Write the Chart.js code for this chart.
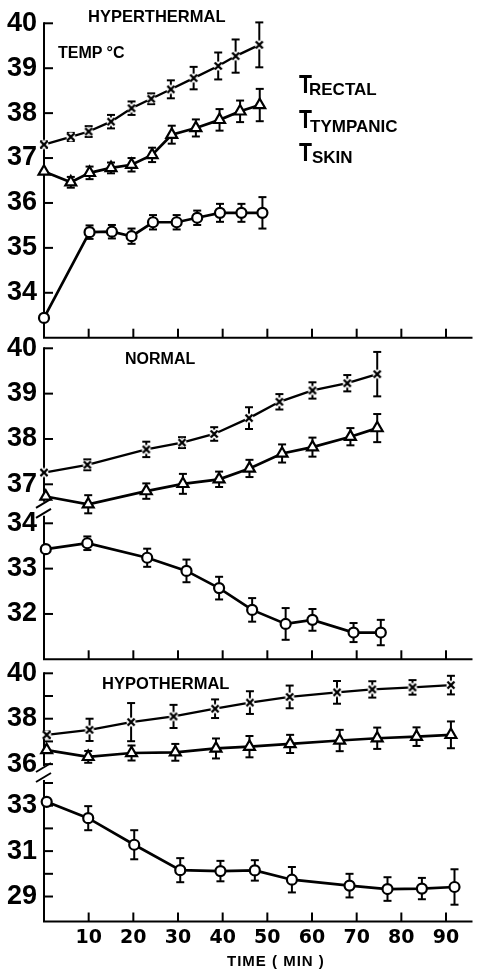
<!DOCTYPE html>
<html><head><meta charset="utf-8">
<script src="https://cdn.jsdelivr.net/npm/chart.js@4/dist/chart.umd.min.js"></script>
<style>
html,body{margin:0;padding:0;background:#fff;}
#wrap{position:relative;width:481px;height:971px;overflow:hidden;background:#fff;}
canvas{position:absolute;left:0;top:0;}
.t{position:absolute;font-family:"Liberation Sans",Arial,sans-serif;font-weight:bold;color:#000;white-space:nowrap;line-height:1;}
.big{font-family:"Liberation Sans Narrow","Liberation Sans",sans-serif;font-size:25px;transform:scaleX(0.85);transform-origin:left top;}
.sub{font-size:17px;}
</style></head><body>
<div id="wrap">
<canvas id="c1" width="481" height="971"></canvas>
<canvas id="c2" width="481" height="971"></canvas>
<canvas id="c3" width="481" height="971"></canvas>
<div class="t" style="left:88px;top:8px;font-size:16.5px;">HYPERTHERMAL</div>
<div class="t" style="left:58px;top:45px;font-size:16px;">TEMP °C</div>
<div class="t big" style="left:299px;top:72px;">T</div><div class="t sub" style="left:309px;top:81px;">RECTAL</div>
<div class="t big" style="left:299px;top:107px;">T</div><div class="t sub" style="left:310px;top:118px;">TYMPANIC</div>
<div class="t big" style="left:299px;top:140px;">T</div><div class="t sub" style="left:312px;top:148.5px;">SKIN</div>
<div class="t" style="left:125px;top:351px;font-size:16px;">NORMAL</div>
<div class="t" style="left:102px;top:675px;font-size:16.5px;">HYPOTHERMAL</div>
<div class="t" style="left:227px;top:953px;font-size:15px;letter-spacing:1px;">TIME ( MIN )</div>
</div>
<script>
// ---------- DATA ----------
const timeTicks = [0, 10, 20, 30, 40, 50, 60, 70, 80, 90];

// Hyperthermal
const hyperRectalTime = [0, 6, 10, 15, 19.6, 24, 28.4, 33.5, 39, 42.9, 48.2];
const hyperRectal     = [37.30, 37.47, 37.59, 37.81, 38.11, 38.32, 38.53, 38.78, 39.05, 39.27, 39.52];
const hyperRectalErr  = [0.07, 0.09, 0.12, 0.15, 0.15, 0.12, 0.2, 0.25, 0.3, 0.37, 0.5];
const hyperTympTime   = [0, 6, 10.2, 15, 19.6, 24.2, 28.6, 34, 39.3, 43.9, 48.3];
const hyperTymp       = [36.70, 36.46, 36.67, 36.78, 36.85, 37.07, 37.52, 37.67, 37.85, 38.04, 38.18];
const hyperTympErr    = [0, 0.12, 0.14, 0.12, 0.15, 0.16, 0.2, 0.19, 0.24, 0.24, 0.36];
const hyperSkinTime   = [0, 10.2, 15.2, 19.6, 24.4, 29.7, 34.3, 39.4, 44.2, 48.9];
const hyperSkin       = [33.44, 35.35, 35.36, 35.26, 35.57, 35.57, 35.67, 35.78, 35.78, 35.78];
const hyperSkinErr    = [0, 0.15, 0.15, 0.17, 0.16, 0.16, 0.16, 0.2, 0.2, 0.35];
const hyperYTicks     = [34, 35, 36, 37, 38, 39, 40];

// Normal
const normRectalTime = [0, 9.7, 22.9, 30.9, 38.1, 45.9, 52.7, 60.1, 67.9, 74.6];
const normRectal     = [37.26, 37.43, 37.77, 37.92, 38.11, 38.46, 38.82, 39.07, 39.23, 39.43];
const normRectalErr  = [0.05, 0.12, 0.17, 0.12, 0.15, 0.24, 0.17, 0.18, 0.18, 0.49];
const normTympTime   = [0.4, 9.9, 22.9, 31.1, 39.2, 46, 53.3, 60.1, 68.6, 74.6];
const normTymp       = [36.73, 36.56, 36.85, 37.01, 37.11, 37.35, 37.68, 37.82, 38.05, 38.24];
const normTympErr    = [0, 0.2, 0.17, 0.22, 0.17, 0.19, 0.2, 0.21, 0.19, 0.31];
const normSkinTime   = [0.4, 9.7, 23.1, 31.9, 39.2, 46.6, 54.1, 60.1, 69.3, 75.4];
const normSkin       = [33.43, 33.56, 33.24, 32.95, 32.57, 32.09, 31.78, 31.87, 31.59, 31.59];
const normSkinErr    = [0, 0.15, 0.2, 0.25, 0.25, 0.26, 0.35, 0.24, 0.21, 0.28];
const normUpperTicks = [37, 38, 39, 40];
const normLowerTicks = [32, 33, 34];

// Hypothermal
const hypoRectalTime = [0.6, 10.2, 19.5, 29, 38.3, 46.1, 55, 65.6, 73.5, 82.5, 91.1];
const hypoRectal     = [37.29, 37.51, 37.85, 38.10, 38.44, 38.71, 38.96, 39.16, 39.29, 39.38, 39.48];
const hypoRectalErr  = [0.15, 0.49, 0.84, 0.51, 0.41, 0.5, 0.5, 0.5, 0.36, 0.32, 0.41];
const hypoTympTime   = [0.6, 9.9, 19.6, 29.4, 38.5, 46, 55.1, 66.2, 74.6, 83.4, 91.1];
const hypoTymp       = [36.62, 36.32, 36.49, 36.52, 36.69, 36.77, 36.89, 37.04, 37.14, 37.21, 37.29];
const hypoTympErr    = [0, 0.26, 0.33, 0.37, 0.44, 0.47, 0.4, 0.47, 0.47, 0.41, 0.59];
const hypoSkinTime   = [0.6, 9.9, 20.2, 30.5, 39.5, 47.2, 55.5, 68.4, 76.9, 84.6, 91.9];
const hypoSkin       = [33.17, 32.45, 31.28, 30.16, 30.12, 30.15, 29.74, 29.48, 29.33, 29.35, 29.42];
const hypoSkinErr    = [0, 0.53, 0.64, 0.53, 0.45, 0.45, 0.56, 0.52, 0.52, 0.47, 0.78];
const hypoUpperTicks = [36, 37, 38, 39, 40];
const hypoLowerTicks = [29, 30, 31, 32, 33, 34];
const hypoUpperLabels = [36, 38, 40];
const hypoLowerLabels = [29, 31, 33];

// ---------- RENDERING ----------
const FONT = '"Liberation Sans", Arial, sans-serif';

function crossImg() {
  const c = document.createElement('canvas');
  c.width = 12; c.height = 12;
  const g = c.getContext('2d');
  g.fillStyle = '#fff';
  g.beginPath(); g.arc(6, 6, 4.5, 0, Math.PI * 2); g.fill();
  g.strokeStyle = '#000'; g.lineWidth = 2.4;
  g.beginPath(); g.moveTo(2.5, 2.5); g.lineTo(9.5, 9.5); g.moveTo(9.5, 2.5); g.lineTo(2.5, 9.5); g.stroke();
  return c;
}
const XIMG = crossImg();

function pts(times, vals, off) { return times.map((t, i) => ({ x: t, y: vals[i] + off })); }

function dsRectal(t, v, e) {
  return { data: pts(t, v, 0), errors: e, borderColor: '#000', borderWidth: 2.3, pointStyle: XIMG,
    pointRadius: 6, tension: 0, clip: false };
}
function dsTymp(t, v, e) {
  return { data: pts(t, v, 0), errors: e, borderColor: '#000', borderWidth: 2.7, pointStyle: 'triangle',
    pointRadius: 6.3, pointBorderWidth: 2.2, pointBackgroundColor: '#fff', pointBorderColor: '#000', tension: 0, clip: false };
}
function dsSkin(t, v, e, off) {
  return { data: pts(t, v, off), errors: e, borderColor: '#000', borderWidth: 2.7, pointStyle: 'circle',
    pointRadius: 5, pointBorderWidth: 2.2, pointBackgroundColor: '#fff', pointBorderColor: '#000', tension: 0, clip: false };
}

const axesPlugin = {
  id: 'axes',
  beforeDatasetsDraw(chart) {
    const ctx = chart.ctx, a = chart.chartArea, xs = chart.scales.x, ys = chart.scales.y;
    const p = chart.options.plugins.axes || {};
    const line = (x1, y1, x2, y2) => { ctx.beginPath(); ctx.moveTo(x1, y1); ctx.lineTo(x2, y2); ctx.stroke(); };
    ctx.save();
    ctx.strokeStyle = '#000'; ctx.lineWidth = 2; ctx.lineCap = 'butt';
    const x0 = a.left, bot = a.bottom;
    line(x0 - 1, bot, a.right, bot);
    if (p.breakAt != null) {
      const yb = ys.getPixelForValue(p.breakAt);
      line(x0, a.top - 1, x0, yb - 7);
      line(x0, yb + 7, x0, bot);
      line(x0 - 8, yb - 1, x0 + 7, yb - 10);
      line(x0 - 8, yb + 9, x0 + 7, yb + 0);
    } else {
      line(x0, a.top - 1, x0, bot);
    }
    ys.ticks.forEach(t => { const y = ys.getPixelForValue(t.value); line(x0, y, x0 + 9, y); });
    timeTicks.forEach(v => { if (v === 0) return; const x = xs.getPixelForValue(v); line(x, bot, x, bot - 9); });
    // error bars
    chart.data.datasets.forEach(ds => {
      ds.data.forEach((pt, i) => {
        const e = ds.errors[i];
        if (!e) return;
        const x = xs.getPixelForValue(pt.x);
        const y1 = ys.getPixelForValue(pt.y + e), y2 = ys.getPixelForValue(pt.y - e);
        line(x, y1, x, y2);
        line(x - 4, y1, x + 4, y1);
        line(x - 4, y2, x + 4, y2);
      });
    });
    ctx.restore();
  }
};

function makePanel(id, o) {
  new Chart(document.getElementById(id), {
    type: 'line',
    data: { datasets: o.datasets },
    plugins: [axesPlugin],
    options: {
      responsive: false, animation: false, devicePixelRatio: 1,
      events: [],
      layout: { padding: { top: o.top, bottom: 971 - o.bottom - o.xh, left: 0, right: 0 } },
      plugins: { legend: { display: false }, tooltip: { enabled: false }, axes: { breakAt: o.breakAt } },
      scales: {
        x: {
          type: 'linear', min: 0, max: 95.93,
          afterBuildTicks: s => { s.ticks = timeTicks.map(v => ({ value: v })); },
          afterFit: s => { s.height = o.xh; },
          grid: { display: false, drawTicks: false }, border: { display: false },
          ticks: { display: o.xLabels, autoSkip: false, maxRotation: 0, padding: 5, color: '#000',
            font: { family: '"DejaVu Sans", sans-serif', size: 19, weight: 'bold' },
            callback: v => (v === 0 ? '' : String(v)) }
        },
        y: {
          type: 'linear', min: o.ymin, max: 40,
          afterBuildTicks: s => { s.ticks = o.yTicks.map(t => ({ value: t.value, lbl: t.lbl })); },
          afterFit: s => { s.width = 44; },
          grid: { display: false, drawTicks: false }, border: { display: false },
          ticks: { autoSkip: false, padding: 7, color: '#000',
            font: { family: FONT, size: 27, weight: 'bold' },
            callback: (v, i, ticks) => ticks[i].lbl }
        }
      }
    }
  });
}

// Panel 1: hyperthermal (no break)
makePanel('c1', {
  top: 23.3, bottom: 337.7, xh: 0, xLabels: false, ymin: 33,
  yTicks: hyperYTicks.map(v => ({ value: v, lbl: String(v) })),
  datasets: [
    dsSkin(hyperSkinTime, hyperSkin, hyperSkinErr, 0),
    dsTymp(hyperTympTime, hyperTymp, hyperTympErr),
    dsRectal(hyperRectalTime, hyperRectal, hyperRectalErr)
  ]
});

// Panel 2: normal (axis break, skin segment shifted)
const normOff = 2.14;
makePanel('c2', {
  top: 348.3, bottom: 659.3, xh: 0, xLabels: false, ymin: 33.14, breakAt: 36.46,
  yTicks: normUpperTicks.map(v => ({ value: v, lbl: String(v) }))
    .concat(normLowerTicks.map(v => ({ value: v + normOff, lbl: String(v) }))),
  datasets: [
    dsSkin(normSkinTime, normSkin, normSkinErr, normOff),
    dsTymp(normTympTime, normTymp, normTympErr),
    dsRectal(normRectalTime, normRectal, normRectalErr)
  ]
});

// Panel 3: hypothermal
const hypoOff = 1.17;
makePanel('c3', {
  top: 673.3, bottom: 921.5, xh: 40, xLabels: true, ymin: 29.07, breakAt: 35.61,
  yTicks: hypoUpperTicks.map(v => ({ value: v, lbl: hypoUpperLabels.includes(v) ? String(v) : '' }))
    .concat(hypoLowerTicks.map(v => ({ value: v + hypoOff, lbl: hypoLowerLabels.includes(v) ? String(v) : '' }))),
  datasets: [
    dsSkin(hypoSkinTime, hypoSkin, hypoSkinErr, hypoOff),
    dsTymp(hypoTympTime, hypoTymp, hypoTympErr),
    dsRectal(hypoRectalTime, hypoRectal, hypoRectalErr)
  ]
});
</script>
</body></html>
